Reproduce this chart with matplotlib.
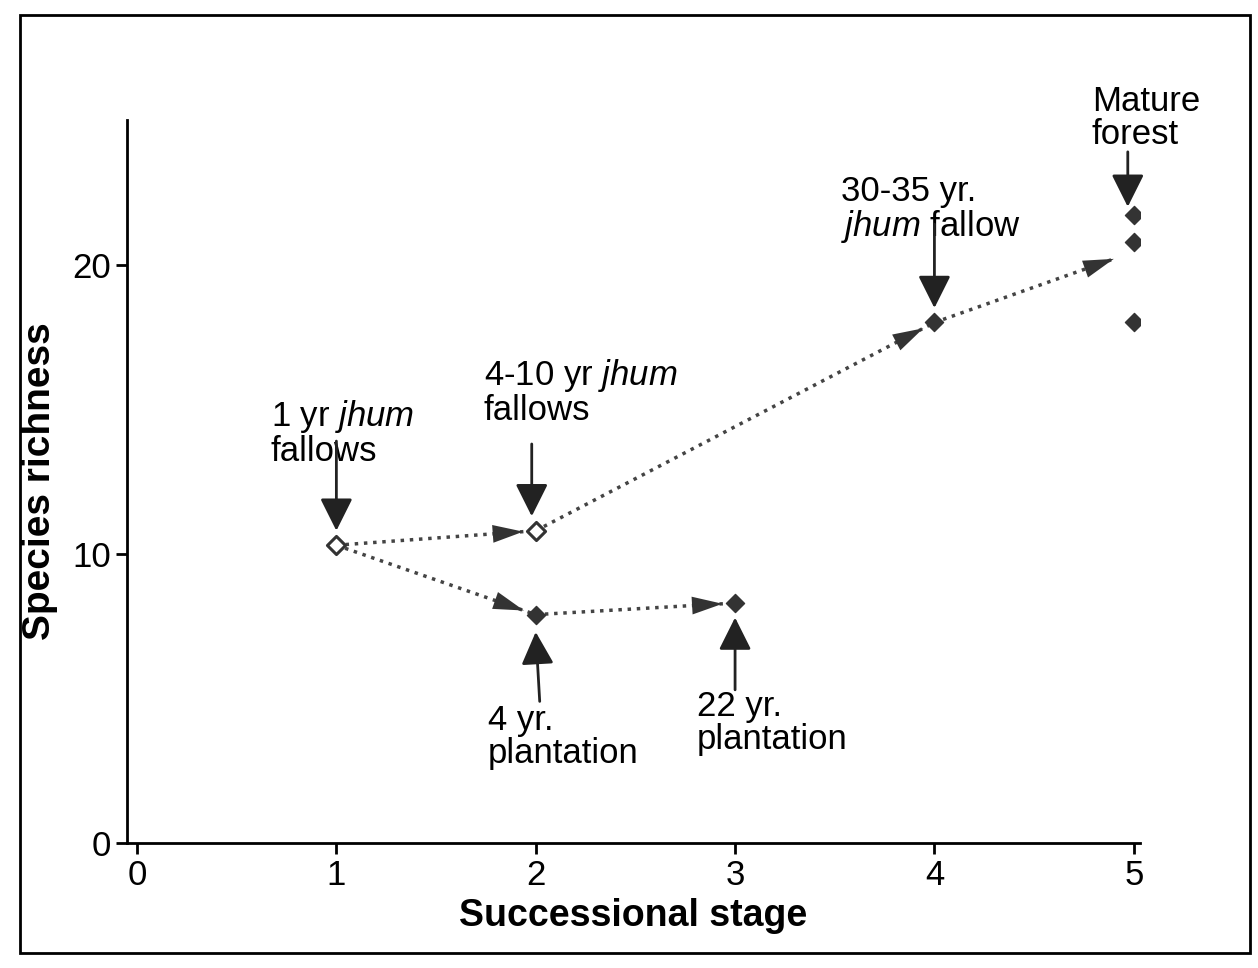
import matplotlib.pyplot as plt
from matplotlib.patches import Rectangle

plt.rcParams['font.family'] = ['Liberation Sans', 'DejaVu Sans']
plt.rcParams['mathtext.fontset'] = 'custom'
plt.rcParams['mathtext.rm'] = 'Liberation Sans'
plt.rcParams['mathtext.it'] = 'Liberation Sans:italic'

# dados
estagio = [1, 2, 2, 3, 4, 5, 5, 5]
riqueza = [10.3, 10.8, 7.9, 8.3, 18.0, 21.7, 20.8, 18.0]
media_madura = 20.2

# setas pontilhadas entre estagios (indices dos pontos)
ligacoes = [(0, 1), (1, 4), (0, 2), (2, 3)]

# rotulos: texto, posicao do texto, inicio e ponta da seta
rotulos = [
    ('1 yr $\\it{jhum}$\nfallows', (0.67, 15.4), (1.0, 13.9), (1.0, 10.8)),
    ('4-10 yr $\\it{jhum}$\nfallows', (1.74, 16.8), (1.98, 13.8), (1.98, 11.3)),
    ('30-35 yr.\n$\\it{jhum}$ fallow', (3.53, 23.1), (4.0, 21.4), (4.0, 18.5)),
    ('Mature\nforest', (4.79, 26.2), (4.97, 23.9), (4.97, 22.0)),
    ('4 yr.\nplantation', (1.76, 4.8), (2.02, 4.9), (2.0, 7.3)),
    ('22 yr.\nplantation', (2.81, 5.3), (3.0, 5.3), (3.0, 7.8)),
]

fig = plt.figure(figsize=(12.58, 9.68), dpi=100)
ax = fig.add_axes([0.101, 0.129, 0.805, 0.747])

def seta_pontilhada(p0, p1, recuo):
    # linha pontilhada + cabeca de seta solida
    ax.plot([p0[0], p1[0]], [p0[1], p1[1]], linestyle=':', lw=2.5, color='#444444', zorder=2)
    ax.annotate('', xy=p1, xytext=p0,
                arrowprops=dict(arrowstyle='-|>,head_length=1.1,head_width=0.32',
                                lw=0, color='#333333', mutation_scale=20,
                                shrinkA=0, shrinkB=recuo))

for a, b in ligacoes:
    seta_pontilhada((estagio[a], riqueza[a]), (estagio[b], riqueza[b]), 9)
seta_pontilhada((estagio[4], riqueza[4]), (4.9, media_madura), 0)

# pontos
ax.scatter(estagio[:2], riqueza[:2], marker='D', s=85, facecolor='white',
           edgecolor='#333333', linewidth=2.2, zorder=5)
ax.scatter(estagio[2:], riqueza[2:], marker='D', s=85, color='#333333', zorder=5)

# rotulos com setas
for texto, pos, ini, fim in rotulos:
    ax.text(pos[0], pos[1], texto, fontsize=25, ha='left', va='top',
            linespacing=1.0, zorder=3)
    ax.annotate('', xy=fim, xytext=ini,
                arrowprops=dict(arrowstyle='-|>,head_length=1.0,head_width=0.5',
                                lw=2, color='#222222',
                                mutation_scale=20, shrinkA=0, shrinkB=0))

ax.set_xlim(-0.05, 5.03)
ax.set_ylim(0, 25)
ax.set_xticks([0, 1, 2, 3, 4, 5])
ax.set_yticks([0, 10, 20])
ax.tick_params(labelsize=25, length=8, width=2)
for s in ['top', 'right']:
    ax.spines[s].set_visible(False)
for s in ['left', 'bottom']:
    ax.spines[s].set_linewidth(2)

ax.set_xlabel('Successional stage', fontsize=27, fontweight='bold', labelpad=4)
ax.set_ylabel('Species richness', fontsize=28, fontweight='bold', labelpad=10)

# moldura da figura
fig.patches.append(Rectangle((0.016, 0.015), 0.978, 0.97, transform=fig.transFigure,
                             fill=False, lw=2, edgecolor='black'))

plt.savefig('out.png', dpi=100)
